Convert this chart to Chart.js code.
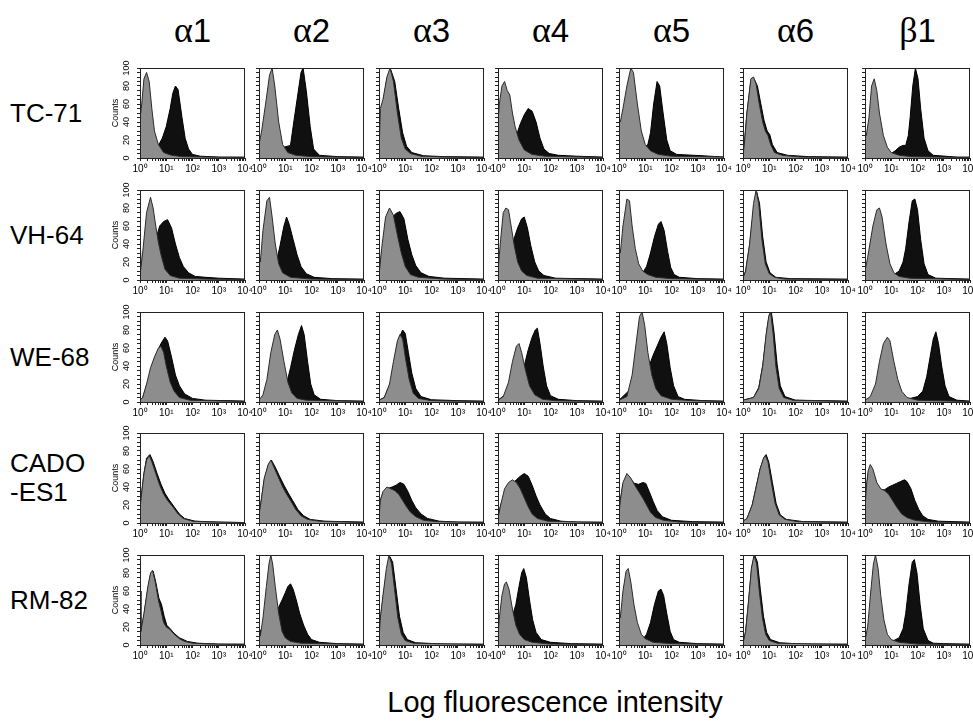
<!DOCTYPE html>
<html>
<head>
<meta charset="utf-8">
<script src="https://cdn.jsdelivr.net/npm/chart.js@4.4.1/dist/chart.umd.min.js"></script>
<style>
  body { margin: 0; background: #fff; }
  #page { position: relative; width: 973px; height: 724px; overflow: hidden; font-family: "Liberation Sans", Arial, sans-serif; color: #000; }
  .panel { position: absolute; }
  .head { position: absolute; top: 9px; font-size: 33px; transform: translateX(-50%); white-space: nowrap; }
  .head .g { font-family: "Liberation Serif", "DejaVu Serif", serif; font-size: 36px; }
  .row { position: absolute; left: 10px; font-size: 26px; line-height: 29px; transform: translateY(-50%); }
  #xlabel { position: absolute; left: 0; width: 1110px; top: 686px; text-align: center; font-size: 29px; }
</style>
</head>
<body>
<div id="page"></div>
<script>
// cell lines (rows) and integrin subunits (columns)
const cellLines = ["TC-71", "VH-64", "WE-68", "CADO<br>-ES1", "RM-82"];
const subunits = [["α", "1"], ["α", "2"], ["α", "3"], ["α", "4"], ["α", "5"], ["α", "6"], ["β", "1"]];
const decadeLabels = ["10⁰", "10¹", "10²", "10³", "10⁴"];
const countLabels = [0, 20, 40, 60, 80, 100];

// histograms: [log10 intensity, counts]
// control = grey, stained = black
const tc71Control = [
  [[0,45],[0.05,55],[0.15,88],[0.25,95],[0.35,85],[0.45,55],[0.55,30],[0.7,15],[0.9,6],[1.2,3],[1.6,1.5],[2.5,1],[4,0.5]],
  [[0,15],[0.1,30],[0.25,60],[0.4,92],[0.5,100],[0.6,80],[0.75,40],[0.9,15],[1.1,6],[1.4,3],[2,1.5],[4,0.5]],
  [[0,2],[0.05,55],[0.15,65],[0.3,90],[0.42,100],[0.55,85],[0.7,50],[0.85,22],[1,10],[1.2,5],[1.6,2],[2.5,1],[4,0.5]],
  [[0,40],[0.05,60],[0.15,80],[0.25,85],[0.35,75],[0.45,70],[0.55,50],[0.65,35],[0.8,20],[1,9],[1.3,4],[1.8,2],[4,0.5]],
  [[0,45],[0.05,40],[0.15,55],[0.3,80],[0.45,100],[0.55,95],[0.7,60],[0.85,30],[1,15],[1.2,8],[1.5,4],[2,2],[4,1]],
  [[0,2],[0.05,15],[0.15,50],[0.3,88],[0.4,90],[0.5,82],[0.62,60],[0.75,40],[0.85,30],[0.95,25],[1.05,15],[1.2,6],[1.5,3],[2.2,1],[4,0.5]],
  [[0,30],[0.05,25],[0.15,45],[0.25,80],[0.35,88],[0.45,75],[0.55,50],[0.7,25],[0.85,12],[1,6],[1.3,3],[1.8,1.5],[4,0.5]]
];
const tc71Stained = [
  [[0,58],[0.1,40],[0.4,20],[0.7,14],[0.85,22],[1,35],[1.15,55],[1.25,72],[1.35,80],[1.45,76],[1.6,45],[1.72,22],[1.85,10],[2,4],[2.3,2],[3,1],[4,1]],
  [[0,10],[0.8,8],[0.95,12],[1.2,14],[1.3,35],[1.45,65],[1.6,95],[1.68,100],[1.8,75],[1.95,35],[2.08,10],[2.3,3],[3,1.5],[4,1]],
  [[0,2],[0.05,50],[0.15,60],[0.3,88],[0.45,98],[0.6,85],[0.75,55],[0.9,28],[1.05,13],[1.25,6],[1.7,2.5],[2.5,1.5],[4,1]],
  [[0,35],[0.5,20],[0.7,25],[0.85,38],[1,48],[1.15,55],[1.3,52],[1.45,40],[1.6,22],[1.75,10],[1.95,5],[2.3,3],[3,2],[4,1]],
  [[0,30],[0.8,12],[0.95,12],[1.1,15],[1.2,28],[1.32,60],[1.45,85],[1.55,80],[1.68,50],[1.82,20],[1.95,8],[2.2,4],[3.2,2.5],[4,1]],
  [[0,2],[0.05,15],[0.15,50],[0.3,86],[0.42,88],[0.55,80],[0.68,60],[0.8,42],[0.92,30],[1.02,26],[1.12,15],[1.3,6],[1.7,3],[2.5,1.5],[4,1]],
  [[0,25],[1,5],[1.15,8],[1.3,12],[1.45,14],[1.55,14],[1.65,25],[1.72,45],[1.82,80],[1.92,100],[2.02,88],[2.12,55],[2.25,22],[2.4,8],[2.6,3],[3.5,1],[4,1]]
];

const vh64Control = [
  [[0,5],[0.1,30],[0.25,75],[0.4,92],[0.5,80],[0.6,60],[0.7,42],[0.8,28],[0.95,12],[1.15,5],[1.5,2],[2.5,1],[4,0.5]],
  [[0,30],[0.05,20],[0.15,55],[0.3,88],[0.4,92],[0.5,70],[0.62,40],[0.75,18],[0.9,8],[1.2,3],[2,1],[4,0.5]],
  [[0,5],[0.1,35],[0.25,70],[0.4,80],[0.55,72],[0.7,50],[0.85,30],[1,15],[1.2,6],[1.5,3],[2.5,1],[4,0.5]],
  [[0,10],[0.1,45],[0.2,75],[0.3,80],[0.4,78],[0.5,60],[0.62,38],[0.75,20],[0.9,10],[1.1,5],[1.5,2],[4,0.5]],
  [[0,40],[0.05,30],[0.15,60],[0.3,90],[0.4,88],[0.5,60],[0.62,35],[0.75,18],[0.9,10],[1.1,6],[1.4,3],[2,1.5],[4,0.5]],
  [[0,2],[0.1,10],[0.25,40],[0.4,85],[0.5,100],[0.6,85],[0.72,45],[0.85,18],[1,7],[1.2,3],[1.6,1],[4,0.5]],
  [[0,10],[0.1,25],[0.3,60],[0.45,78],[0.55,80],[0.65,70],[0.8,40],[0.95,18],[1.1,8],[1.3,4],[1.7,2],[4,0.5]]
];
const vh64Stained = [
  [[0,50],[0.05,10],[0.4,25],[0.6,45],[0.75,60],[0.9,65],[1.05,67],[1.2,58],[1.35,40],[1.5,25],[1.65,15],[1.85,8],[2.1,4],[2.5,3],[3,2],[4,1]],
  [[0,25],[0.5,15],[0.65,18],[0.8,38],[0.95,60],[1.05,70],[1.15,62],[1.3,45],[1.45,28],[1.6,15],[1.8,7],[2.1,3],[2.8,1.5],[4,1]],
  [[0,5],[0.1,30],[0.3,60],[0.5,70],[0.65,74],[0.8,76],[0.95,68],[1.1,45],[1.25,28],[1.4,16],[1.6,8],[1.9,4],[2.5,2],[4,1]],
  [[0,10],[0.4,35],[0.6,45],[0.75,58],[0.9,68],[1,70],[1.12,58],[1.25,38],[1.4,20],[1.55,10],[1.75,5],[2.2,2],[4,1]],
  [[0,30],[0.9,8],[1.05,15],[1.2,30],[1.35,48],[1.5,62],[1.6,65],[1.72,55],[1.85,32],[1.97,14],[2.1,6],[2.3,3],[3,1.5],[4,1]],
  [[0,2],[0.1,10],[0.25,38],[0.42,82],[0.52,98],[0.63,85],[0.75,48],[0.88,20],[1.03,8],[1.25,3],[1.8,1.5],[4,1]],
  [[0,8],[1.1,6],[1.3,10],[1.45,20],[1.55,35],[1.68,65],[1.8,88],[1.9,90],[2,78],[2.12,45],[2.25,18],[2.4,6],[2.7,2],[4,1]]
];

const we68Control = [
  [[0,2],[0.1,5],[0.25,20],[0.4,38],[0.55,50],[0.7,60],[0.8,62],[0.9,55],[1,40],[1.15,22],[1.3,12],[1.5,5],[1.9,2],[4,0.5]],
  [[0,2],[0.15,8],[0.3,25],[0.45,55],[0.6,75],[0.7,80],[0.8,70],[0.95,45],[1.1,22],[1.25,10],[1.45,4],[1.8,2],[4,0.5]],
  [[0,2],[0.2,5],[0.4,20],[0.55,45],[0.7,68],[0.8,75],[0.9,70],[1,50],[1.15,25],[1.3,10],[1.5,4],[2,1.5],[4,0.5]],
  [[0,2],[0.2,6],[0.4,22],[0.55,45],[0.7,62],[0.8,65],[0.9,55],[1.05,35],[1.2,18],[1.4,8],[1.7,3],[2.2,1.5],[4,0.5]],
  [[0,2],[0.3,6],[0.5,30],[0.65,65],[0.78,95],[0.88,100],[0.98,85],[1.1,55],[1.25,30],[1.4,15],[1.6,7],[2,3],[2.8,1.5],[4,0.5]],
  [[0,2],[0.4,5],[0.6,15],[0.75,40],[0.88,75],[0.98,95],[1.05,100],[1.15,75],[1.25,40],[1.38,15],[1.55,5],[1.9,2],[4,0.5]],
  [[0,2],[0.2,6],[0.4,20],[0.55,45],[0.7,65],[0.85,72],[0.95,68],[1.1,45],[1.25,25],[1.4,12],[1.6,5],[2,2],[4,0.5]]
];
const we68Stained = [
  [[0,2],[0.1,5],[0.3,22],[0.5,42],[0.65,55],[0.8,65],[0.95,72],[1.05,68],[1.2,50],[1.35,30],[1.5,18],[1.7,9],[2,4],[2.5,2],[4,1]],
  [[0,2],[0.9,10],[1.05,20],[1.2,38],[1.35,58],[1.5,75],[1.62,85],[1.72,75],[1.85,45],[1.97,20],[2.1,8],[2.35,3],[3,1.5],[4,1]],
  [[0,2],[0.2,5],[0.45,22],[0.6,48],[0.75,70],[0.9,80],[1,76],[1.12,55],[1.25,32],[1.4,15],[1.6,6],[2,2.5],[3,1.5],[4,1]],
  [[0,2],[0.8,20],[1,40],[1.15,58],[1.3,72],[1.42,80],[1.5,82],[1.6,65],[1.72,40],[1.85,18],[2,7],[2.3,3],[3,1.5],[4,1]],
  [[0,2],[1,30],[1.15,40],[1.3,52],[1.45,62],[1.6,72],[1.72,78],[1.82,65],[1.95,38],[2.08,18],[2.25,6],[2.5,3],[3.2,1.5],[4,1]],
  [[0,2],[0.4,5],[0.6,16],[0.76,42],[0.9,78],[1,97],[1.08,100],[1.18,78],[1.3,42],[1.42,18],[1.6,6],[2,2],[4,1]],
  [[0,2],[1.6,3],[2,6],[2.2,12],[2.35,28],[2.48,50],[2.6,70],[2.7,78],[2.8,65],[2.92,40],[3.05,18],[3.2,6],[3.5,2],[4,1]]
];

const cadoControl = [
  [[0,15],[0.05,30],[0.15,55],[0.25,70],[0.35,75],[0.45,68],[0.6,55],[0.75,42],[0.9,32],[1.05,25],[1.25,18],[1.45,10],[1.65,5],[2,2],[2.8,1],[4,0.5]],
  [[0,10],[0.05,18],[0.2,50],[0.35,65],[0.45,70],[0.6,60],[0.75,50],[0.9,40],[1.05,32],[1.2,25],[1.4,15],[1.6,8],[1.85,4],[2.3,2],[4,0.5]],
  [[0,5],[0.05,25],[0.15,35],[0.3,40],[0.45,38],[0.6,36],[0.75,32],[0.9,25],[1.05,18],[1.2,12],[1.4,7],[1.7,3],[2.2,1.5],[4,0.5]],
  [[0,5],[0.1,20],[0.25,38],[0.4,45],[0.55,48],[0.7,45],[0.85,38],[1,28],[1.15,18],[1.3,10],[1.5,5],[1.9,2],[4,0.5]],
  [[0,10],[0.05,25],[0.15,45],[0.3,55],[0.45,50],[0.6,42],[0.75,35],[0.9,28],[1.05,20],[1.2,12],[1.4,6],[1.7,3],[2.3,1],[4,0.5]],
  [[0,2],[0.15,5],[0.35,20],[0.5,40],[0.65,60],[0.78,72],[0.85,75],[0.95,68],[1.08,45],[1.22,22],[1.38,9],[1.6,4],[2.1,1.5],[4,0.5]],
  [[0,15],[0.05,40],[0.12,58],[0.2,65],[0.3,60],[0.45,45],[0.6,38],[0.75,36],[0.9,32],[1.05,25],[1.2,18],[1.4,10],[1.6,6],[1.9,3],[2.5,1],[4,0.5]]
];
const cadoStained = [
  [[0,15],[0.05,30],[0.15,55],[0.25,72],[0.38,76],[0.5,68],[0.65,55],[0.8,43],[0.95,33],[1.1,26],[1.3,18],[1.5,10],[1.7,5],[2.1,2],[3,1],[4,0.5]],
  [[0,10],[0.05,18],[0.2,48],[0.35,64],[0.47,70],[0.62,62],[0.78,52],[0.95,42],[1.1,34],[1.28,25],[1.48,15],[1.7,8],[1.95,4],[2.5,2],[4,1]],
  [[0,5],[0.05,25],[0.15,33],[0.3,38],[0.5,40],[0.65,42],[0.8,45],[0.95,43],[1.1,35],[1.25,25],[1.4,17],[1.6,10],[1.85,5],[2.3,2],[3,1],[4,1]],
  [[0,5],[0.1,20],[0.3,35],[0.5,42],[0.7,48],[0.85,52],[1,55],[1.15,52],[1.3,42],[1.45,30],[1.6,20],[1.8,10],[2,5],[2.4,2],[3,1],[4,1]],
  [[0,10],[0.05,25],[0.15,43],[0.3,52],[0.45,48],[0.6,44],[0.75,43],[0.9,45],[1.02,44],[1.15,35],[1.3,24],[1.45,14],[1.65,7],[2,3],[2.8,1.5],[4,1]],
  [[0,2],[0.15,5],[0.35,20],[0.5,40],[0.65,60],[0.8,73],[0.88,76],[0.98,68],[1.12,45],[1.26,22],[1.42,9],[1.65,4],[2.3,1.5],[4,1]],
  [[0,15],[0.05,38],[0.12,55],[0.2,62],[0.3,57],[0.45,43],[0.6,37],[0.75,37],[0.9,40],[1.05,42],[1.2,44],[1.35,46],[1.5,48],[1.6,46],[1.75,38],[1.9,25],[2.05,15],[2.2,8],[2.4,4],[2.8,2],[4,1]]
];

const rm82Control = [
  [[0,60],[0.03,15],[0.15,35],[0.3,65],[0.4,80],[0.48,83],[0.58,70],[0.7,50],[0.8,38],[0.9,25],[1,20],[1.15,17],[1.3,12],[1.5,7],[1.7,4],[2,2],[2.8,1],[4,0.5]],
  [[0,20],[0.05,10],[0.15,30],[0.28,65],[0.38,90],[0.45,100],[0.52,90],[0.62,65],[0.75,35],[0.88,15],[1,8],[1.2,4],[1.6,2],[4,0.5]],
  [[0,5],[0.05,30],[0.15,55],[0.28,85],[0.38,100],[0.48,90],[0.6,60],[0.72,30],[0.85,12],[1,5],[1.3,2],[4,0.5]],
  [[0,10],[0.05,30],[0.15,55],[0.25,68],[0.32,70],[0.42,62],[0.55,40],[0.68,22],[0.82,12],[1,6],[1.3,3],[2,1],[4,0.5]],
  [[0,45],[0.05,30],[0.15,60],[0.27,82],[0.35,85],[0.45,70],[0.57,45],[0.7,25],[0.85,12],[1,7],[1.3,3],[2,1.5],[4,0.5]],
  [[0,2],[0.1,15],[0.2,45],[0.32,85],[0.42,100],[0.52,90],[0.62,60],[0.74,30],[0.86,12],[1,5],[1.3,2],[4,0.5]],
  [[0,5],[0.1,20],[0.22,60],[0.32,90],[0.4,100],[0.5,85],[0.6,55],[0.72,28],[0.85,12],[1,6],[1.3,3],[2,1],[4,0.5]]
];
const rm82Stained = [
  [[0,60],[0.03,15],[0.15,33],[0.3,63],[0.4,78],[0.5,82],[0.6,70],[0.72,52],[0.82,45],[0.92,32],[1.02,22],[1.15,18],[1.3,13],[1.5,8],[1.8,4],[2.2,2],[3,1],[4,1]],
  [[0,15],[0.6,30],[0.75,42],[0.88,50],[1,58],[1.1,65],[1.2,68],[1.3,62],[1.42,50],[1.55,35],[1.7,22],[1.85,12],[2,6],[2.3,3],[3,1.5],[4,1]],
  [[0,5],[0.05,28],[0.15,52],[0.3,82],[0.42,98],[0.52,92],[0.65,62],[0.78,32],[0.92,14],[1.08,6],[1.4,2.5],[2.5,1],[4,1]],
  [[0,10],[0.4,30],[0.55,32],[0.68,45],[0.8,65],[0.9,80],[0.98,85],[1.08,75],[1.2,50],[1.32,28],[1.45,14],[1.65,6],[2,3],[2.8,1.5],[4,1]],
  [[0,30],[0.9,6],[1.05,12],[1.2,25],[1.35,45],[1.5,60],[1.6,62],[1.7,55],[1.82,35],[1.95,15],[2.08,6],[2.3,3],[3,1.5],[4,1]],
  [[0,2],[0.1,15],[0.2,45],[0.33,86],[0.44,100],[0.55,92],[0.66,62],[0.78,32],[0.9,14],[1.05,6],[1.4,2.5],[2.2,1],[4,1]],
  [[0,5],[1.1,5],[1.3,8],[1.45,18],[1.55,35],[1.68,68],[1.8,92],[1.88,95],[1.98,80],[2.1,45],[2.22,18],[2.4,5],[2.6,2],[3,1.5],[4,1]]
];

const controls = [tc71Control, vh64Control, we68Control, cadoControl, rm82Control];
const stains = [tc71Stained, vh64Stained, we68Stained, cadoStained, rm82Stained];

// layout
const colLeft = [140, 259, 379, 498, 619, 743, 865];
const rowTop = [68, 190, 312, 433, 555];
const plotW = 105, plotH = 90;
const padT = 10, padR = 10, padB = 2, xAxisH = 18;

Chart.defaults.font.family = '"Liberation Sans", Arial, sans-serif';
Chart.defaults.color = '#000';

const page = document.getElementById('page');

// box round each plot
const framePlugin = {
  id: 'frame',
  afterDatasetsDraw(chart) {
    const { ctx, chartArea: a } = chart;
    ctx.save();
    ctx.strokeStyle = '#222';
    ctx.lineWidth = 1;
    ctx.strokeRect(Math.round(a.left) + 0.5, Math.round(a.top) + 0.5,
      Math.round(a.right - a.left) - 1, Math.round(a.bottom - a.top));
    ctx.restore();
  }
};

subunits.forEach((s, c) => {
  const d = document.createElement('div');
  d.className = 'head';
  d.style.left = (colLeft[c] + plotW / 2) + 'px';
  d.innerHTML = '<span class="g">' + s[0] + '</span>' + s[1];
  page.appendChild(d);
});

cellLines.forEach((name, r) => {
  const d = document.createElement('div');
  d.className = 'row';
  d.style.top = (rowTop[r] + plotH / 2) + 'px';
  d.innerHTML = name;
  page.appendChild(d);
});

const xl = document.createElement('div');
xl.id = 'xlabel';
xl.textContent = 'Log fluorescence intensity';
page.appendChild(xl);

function makePanel(r, c) {
  const first = c === 0;
  const yW = first ? 32 : 4;
  const padL = first ? 4 : 8;
  const w = padL + yW + plotW + padR;
  const h = padT + plotH + xAxisH + padB;
  const box = document.createElement('div');
  box.className = 'panel';
  box.style.left = (colLeft[c] - yW - padL) + 'px';
  box.style.top = (rowTop[r] - padT) + 'px';
  const cv = document.createElement('canvas');
  cv.width = w; cv.height = h;
  cv.style.width = w + 'px'; cv.style.height = h + 'px';
  box.appendChild(cv);
  page.appendChild(box);

  new Chart(cv, {
    type: 'line',
    data: {
      datasets: [
        { data: controls[r][c], fill: 'origin', backgroundColor: '#8d8d8d', borderColor: '#2b2b2b',
          borderWidth: 1, pointRadius: 0, tension: 0 },
        { data: stains[r][c], fill: 'origin', backgroundColor: '#101010', borderColor: '#000',
          borderWidth: 1, pointRadius: 0, tension: 0 }
      ]
    },
    options: {
      responsive: false,
      animation: false,
      devicePixelRatio: 1,
      layout: { padding: { left: padL, right: padR, top: padT, bottom: padB } },
      plugins: { legend: { display: false }, tooltip: { enabled: false } },
      scales: {
        x: {
          type: 'linear', min: 0, max: 4,
          border: { display: false },
          grid: { drawOnChartArea: false, tickLength: 3, color: '#222' },
          afterBuildTicks(scale) {
            const t = [];
            for (let e = 0; e < 4; e++) for (let k = 1; k < 10; k++) t.push({ value: e + Math.log10(k) });
            t.push({ value: 4 });
            scale.ticks = t;
          },
          afterFit(scale) { scale.height = xAxisH; },
          ticks: {
            autoSkip: false, maxRotation: 0, padding: 2, font: { size: 10 },
            callback(v) {
              const n = Math.round(v);
              return Math.abs(v - n) < 1e-6 ? decadeLabels[n] : '';
            }
          }
        },
        y: {
          min: 0, max: 100,
          border: { display: false },
          grid: { drawOnChartArea: false, tickLength: 3, color: '#222' },
          afterFit(scale) { scale.width = yW; },
          title: { display: first, text: 'Counts', font: { size: 9 }, padding: { top: 2, bottom: 0 } },
          ticks: {
            display: first, stepSize: 5, autoSkip: false, minRotation: 90, maxRotation: 90,
            crossAlign: 'center', padding: 3, font: { size: 9 },
            callback(v) { return countLabels.includes(v) ? String(v) : ''; }
          }
        }
      }
    },
    plugins: [framePlugin]
  });
}

for (let r = 0; r < rowTop.length; r++)
  for (let c = 0; c < colLeft.length; c++) makePanel(r, c);
</script>
</body>
</html>
